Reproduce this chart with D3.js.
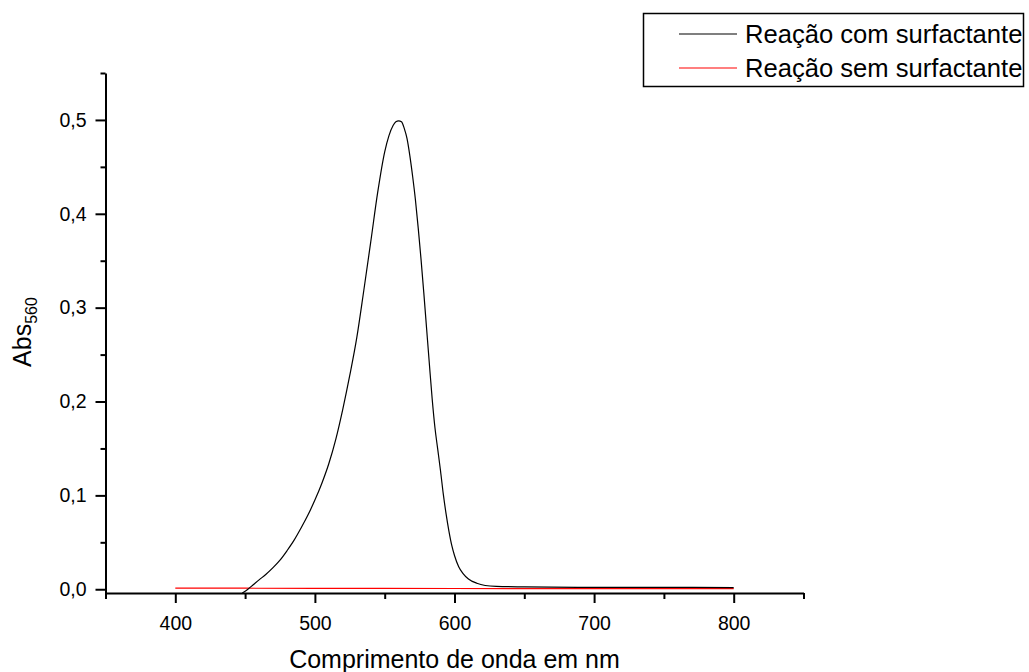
<!DOCTYPE html>
<html>
<head>
<meta charset="utf-8">
<script src="https://cdn.jsdelivr.net/npm/d3@7/dist/d3.min.js"></script>
<style>
  body { margin: 0; background: #fff; }
  svg { font-family: "Liberation Sans", Arial, sans-serif; }
</style>
</head>
<body>
<svg width="1029" height="672"></svg>
<script>
// wavelength (nm) / absorbance
const comWave = [448, 452, 456, 460, 465, 470, 475, 480, 485, 490, 495, 500, 505, 510, 515, 520, 525, 530, 535, 540, 545, 550, 553, 556, 558, 560, 562, 564, 566, 568, 570, 572, 574, 576, 578, 580, 582, 584, 586, 588, 590, 592, 594, 596, 598, 600, 603, 606, 610, 616, 622, 630, 650, 700, 750, 800];
const comAbs = [-0.004, 0.000, 0.005, 0.010, 0.016, 0.023, 0.031, 0.041, 0.052, 0.065, 0.079, 0.095, 0.113, 0.134, 0.160, 0.192, 0.228, 0.268, 0.318, 0.370, 0.423, 0.466, 0.483, 0.494, 0.498, 0.499, 0.498, 0.491, 0.480, 0.462, 0.440, 0.415, 0.385, 0.352, 0.316, 0.278, 0.240, 0.203, 0.172, 0.149, 0.126, 0.101, 0.080, 0.062, 0.047, 0.036, 0.024, 0.017, 0.011, 0.0064, 0.004, 0.003, 0.0025, 0.002, 0.002, 0.0018];

const semWave = [400, 500, 600, 700, 800];
const semAbs = [0.0012, 0.0010, 0.0008, 0.0007, 0.0006];

const xTicks = [400, 500, 600, 700, 800];
const xMinor = [350, 450, 550, 650, 750, 850];
const yTicks = [0, 0.1, 0.2, 0.3, 0.4, 0.5];
const yMinor = [0.05, 0.15, 0.25, 0.35, 0.45, 0.55];

const legendNames = ["Reação com surfactante", "Reação sem surfactante"];
const colors = ["#000000", "#ff0000"];

const svg = d3.select("svg");

const x = d3.scaleLinear().domain([350, 850]).range([105.5, 803.5]);
const y = d3.scaleLinear().domain([-0.004, 0.55]).range([593, 73]);

const fmt = v => d3.format(".1f")(v).replace(".", ",");

// x axis
svg.append("g")
  .attr("transform", `translate(0,${y.range()[0]})`)
  .call(d3.axisBottom(x).tickValues(xTicks).tickSize(10).tickPadding(13).tickSizeOuter(0));
svg.append("g")
  .attr("transform", `translate(0,${y.range()[0]})`)
  .call(d3.axisBottom(x).tickValues(xMinor).tickSize(6).tickFormat("").tickSizeOuter(0))
  .select(".domain").remove();

// y axis
svg.append("g")
  .attr("transform", `translate(${x.range()[0]},0)`)
  .call(d3.axisLeft(y).tickValues(yTicks).tickSize(10).tickPadding(9).tickFormat(fmt).tickSizeOuter(0));
svg.append("g")
  .attr("transform", `translate(${x.range()[0]},0)`)
  .call(d3.axisLeft(y).tickValues(yMinor).tickSize(5).tickFormat("").tickSizeOuter(0))
  .select(".domain").remove();

svg.selectAll(".domain, .tick line")
  .attr("stroke", "#000")
  .attr("stroke-width", 2);
svg.selectAll(".tick text")
  .attr("font-size", 19.5)
  .attr("fill", "#000")
  .attr("font-family", "Liberation Sans, Arial, sans-serif");

// axis titles
svg.append("text")
  .attr("x", (x.range()[0] + x.range()[1]) / 2)
  .attr("y", 668)
  .attr("text-anchor", "middle")
  .attr("font-size", 25)
  .text("Comprimento de onda em nm");

const yTitle = svg.append("text")
  .attr("transform", `translate(31,${(y.range()[0] + y.range()[1]) / 2 - 1}) rotate(-90)`)
  .attr("text-anchor", "middle")
  .attr("font-size", 25);
yTitle.append("tspan").text("Abs");
yTitle.append("tspan").attr("font-size", 16).attr("dy", 6).text("560");

// data lines
const line = d3.line()
  .x(d => x(d[0]))
  .y(d => y(d[1]))
  .curve(d3.curveMonotoneX);

const series = [
  d3.zip(semWave, semAbs),
  d3.zip(comWave, comAbs)
];

svg.selectAll(".serie")
  .data(series)
  .enter()
  .append("path")
  .attr("class", "serie")
  .attr("d", line)
  .attr("fill", "none")
  .attr("stroke", (d, i) => i === 0 ? colors[1] : colors[0])
  .attr("stroke-width", 1.2);

// legend
const legend = svg.append("g");
legend.append("rect")
  .attr("x", 643.5)
  .attr("y", 13.5)
  .attr("width", 380)
  .attr("height", 73)
  .attr("fill", "#fff")
  .attr("stroke", "#000")
  .attr("stroke-width", 1.5);

const items = legend.selectAll(".item")
  .data(legendNames)
  .enter()
  .append("g")
  .attr("class", "item")
  .attr("transform", (d, i) => `translate(0,${34 + i * 34})`);

items.append("line")
  .attr("x1", 679)
  .attr("x2", 737)
  .attr("stroke", (d, i) => colors[i])
  .attr("stroke-width", 1.2);

items.append("text")
  .attr("x", 745)
  .attr("y", 9)
  .attr("font-size", 25.6)
  .text(d => d);
</script>
</body>
</html>
